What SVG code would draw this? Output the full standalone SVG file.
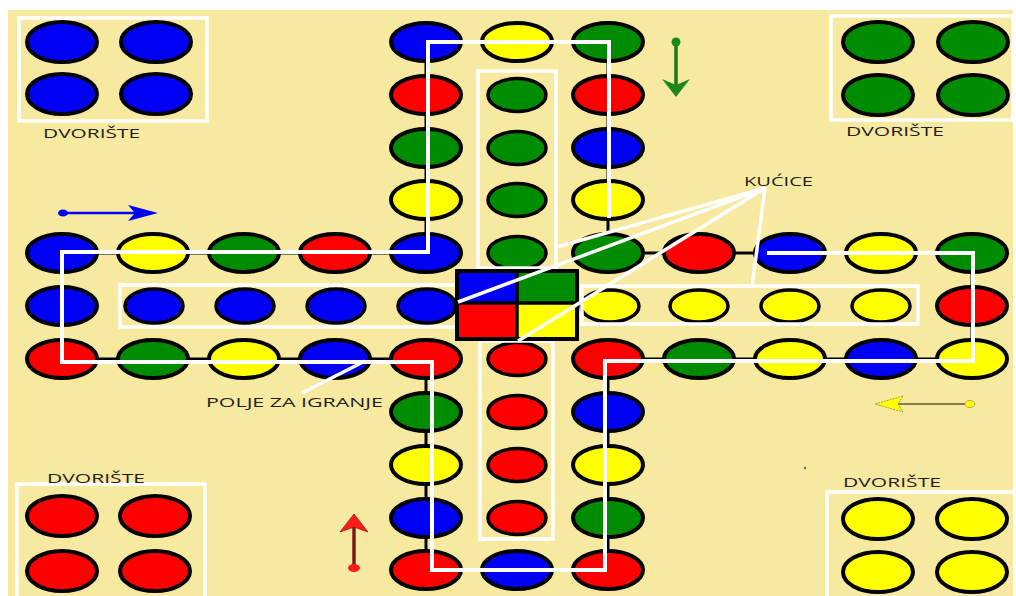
<svg xmlns="http://www.w3.org/2000/svg" width="1016" height="596" viewBox="0 0 1016 596">
<style>
.c{stroke:#000;stroke-width:4}
.h{stroke:#000;stroke-width:3.5}
.b{fill:#0000f5}.r{fill:#ff0000}.g{fill:#008c00}.y{fill:#ffff00}
.box{fill:none;stroke:#fff;stroke-width:3.5}
.wp{fill:none;stroke:#fff;stroke-width:4;stroke-linejoin:miter}
.ann{stroke:#fff;stroke-width:3.5;fill:none}
.lbl{font-family:"Open Sans","Liberation Sans",sans-serif;font-size:13px;fill:#1e1e1e}
</style>
<rect width="1016" height="596" fill="#fff"/>
<rect x="8" y="10" width="1005" height="586" fill="#f7e9a0"/>

<g id="track-links">
<polyline points="426,253 426,42 608,42 608,253 972,253 972,359 608,359 608,570 426,570 426,359 62,359 62,253 426,253" fill="none" stroke="#000" stroke-width="3"/>
</g>

<g id="yard-blue">
<rect class="box" x="19" y="18" width="188" height="103"/>
<ellipse class="c b" cx="62" cy="42" rx="35" ry="20"/>
<ellipse class="c b" cx="156" cy="42" rx="35" ry="20"/>
<ellipse class="c b" cx="62" cy="94" rx="35" ry="20"/>
<ellipse class="c b" cx="156" cy="94" rx="35" ry="20"/>
<text class="lbl" x="43" y="138" textLength="97" lengthAdjust="spacingAndGlyphs">DVORIŠTE</text>
</g>
<g id="yard-green">
<rect class="box" x="831" y="16" width="182" height="104"/>
<ellipse class="c g" cx="878" cy="42" rx="35" ry="20"/>
<ellipse class="c g" cx="973" cy="42" rx="35" ry="20"/>
<ellipse class="c g" cx="878" cy="95" rx="35" ry="20"/>
<ellipse class="c g" cx="973" cy="95" rx="35" ry="20"/>
<text class="lbl" x="846" y="136" textLength="98" lengthAdjust="spacingAndGlyphs">DVORIŠTE</text>
</g>
<g id="yard-red">
<rect class="box" x="17" y="484" width="188" height="120"/>
<ellipse class="c r" cx="62" cy="516" rx="35" ry="20"/>
<ellipse class="c r" cx="155" cy="516" rx="35" ry="20"/>
<ellipse class="c r" cx="62" cy="571" rx="35" ry="20"/>
<ellipse class="c r" cx="155" cy="571" rx="35" ry="20"/>
<text class="lbl" x="47" y="483" textLength="98" lengthAdjust="spacingAndGlyphs">DVORIŠTE</text>
</g>
<g id="yard-yellow">
<rect class="box" x="827" y="492" width="190" height="110"/>
<ellipse class="c y" cx="878" cy="519" rx="35" ry="20"/>
<ellipse class="c y" cx="972" cy="519" rx="35" ry="20"/>
<ellipse class="c y" cx="878" cy="572" rx="35" ry="20"/>
<ellipse class="c y" cx="972" cy="572" rx="35" ry="20"/>
<text class="lbl" x="843" y="487" textLength="98" lengthAdjust="spacingAndGlyphs">DVORIŠTE</text>
</g>

<g id="track">
<ellipse class="c b" cx="426" cy="42" rx="35" ry="19"/>
<ellipse class="c r" cx="426" cy="95" rx="35" ry="19"/>
<ellipse class="c g" cx="426" cy="148" rx="35" ry="19"/>
<ellipse class="c y" cx="426" cy="200" rx="35" ry="19"/>
<ellipse class="c b" cx="426" cy="253" rx="35" ry="19"/>
<ellipse class="c y" cx="517" cy="42" rx="35" ry="19"/>
<ellipse class="c g" cx="608" cy="42" rx="35" ry="19"/>
<ellipse class="c r" cx="608" cy="95" rx="35" ry="19"/>
<ellipse class="c b" cx="608" cy="148" rx="35" ry="19"/>
<ellipse class="c y" cx="608" cy="200" rx="35" ry="19"/>
<ellipse class="c g" cx="608" cy="253" rx="35" ry="19"/>

<ellipse class="c b" cx="62" cy="253" rx="35" ry="19"/>
<ellipse class="c y" cx="153" cy="253" rx="35" ry="19"/>
<ellipse class="c g" cx="244" cy="253" rx="35" ry="19"/>
<ellipse class="c r" cx="335" cy="253" rx="35" ry="19"/>
<ellipse class="c b" cx="62" cy="306" rx="35" ry="19"/>
<ellipse class="c r" cx="62" cy="359" rx="35" ry="19"/>
<ellipse class="c g" cx="153" cy="359" rx="35" ry="19"/>
<ellipse class="c y" cx="244" cy="359" rx="35" ry="19"/>
<ellipse class="c b" cx="335" cy="359" rx="35" ry="19"/>
<ellipse class="c r" cx="426" cy="359" rx="35" ry="19"/>

<ellipse class="c r" cx="699" cy="253" rx="35" ry="19"/>
<ellipse class="c b" cx="790" cy="253" rx="35" ry="19"/>
<ellipse class="c y" cx="881" cy="253" rx="35" ry="19"/>
<ellipse class="c g" cx="972" cy="253" rx="35" ry="19"/>
<ellipse class="c r" cx="972" cy="306" rx="35" ry="19"/>
<ellipse class="c r" cx="608" cy="359" rx="35" ry="19"/>
<ellipse class="c g" cx="699" cy="359" rx="35" ry="19"/>
<ellipse class="c y" cx="790" cy="359" rx="35" ry="19"/>
<ellipse class="c b" cx="881" cy="359" rx="35" ry="19"/>
<ellipse class="c y" cx="972" cy="359" rx="35" ry="19"/>

<ellipse class="c g" cx="426" cy="412" rx="35" ry="19"/>
<ellipse class="c y" cx="426" cy="465" rx="35" ry="19"/>
<ellipse class="c b" cx="426" cy="518" rx="35" ry="19"/>
<ellipse class="c r" cx="426" cy="570" rx="35" ry="19"/>
<ellipse class="c b" cx="517" cy="570" rx="35" ry="19"/>
<ellipse class="c b" cx="608" cy="412" rx="35" ry="19"/>
<ellipse class="c y" cx="608" cy="465" rx="35" ry="19"/>
<ellipse class="c g" cx="608" cy="518" rx="35" ry="19"/>
<ellipse class="c r" cx="608" cy="570" rx="35" ry="19"/>
</g>

<g id="home-green">
<ellipse class="h g" cx="517" cy="95" rx="29" ry="16.5"/>
<ellipse class="h g" cx="517" cy="148" rx="29" ry="16.5"/>
<ellipse class="h g" cx="517" cy="200" rx="29" ry="16.5"/>
<ellipse class="h g" cx="517" cy="253" rx="29" ry="16.5"/>
<rect class="box" x="478" y="71" width="78" height="197"/>
</g>
<g id="home-blue">
<ellipse class="h b" cx="154" cy="306" rx="29" ry="17"/>
<ellipse class="h b" cx="245" cy="306" rx="29" ry="17"/>
<ellipse class="h b" cx="336" cy="306" rx="29" ry="17"/>
<ellipse class="h b" cx="427" cy="306" rx="29" ry="17"/>
<rect class="box" x="120" y="285" width="338" height="42"/>
</g>
<g id="home-yellow">
<ellipse class="h y" cx="610" cy="306" rx="29" ry="16"/>
<ellipse class="h y" cx="699" cy="306" rx="29" ry="16"/>
<ellipse class="h y" cx="790" cy="306" rx="29" ry="16"/>
<ellipse class="h y" cx="881" cy="306" rx="29" ry="16"/>
<rect class="box" x="582" y="286" width="336" height="38"/>
</g>
<g id="home-red">
<ellipse class="h r" cx="517" cy="359" rx="29" ry="16.5"/>
<ellipse class="h r" cx="517" cy="412" rx="29" ry="16.5"/>
<ellipse class="h r" cx="517" cy="465" rx="29" ry="16.5"/>
<ellipse class="h r" cx="517" cy="518" rx="29" ry="16.5"/>
<rect class="box" x="480" y="341" width="73" height="198"/>
</g>

<g id="center">
<rect x="457" y="271" width="60" height="32" fill="#0000f5"/>
<rect x="517" y="271" width="60" height="32" fill="#008c00"/>
<rect x="457" y="303" width="60" height="36" fill="#ff0000"/>
<rect x="517" y="303" width="60" height="36" fill="#ffff00"/>
<rect x="457" y="271" width="120" height="68" fill="none" stroke="#000" stroke-width="4"/>
<line x1="517" y1="271" x2="517" y2="339" stroke="#000" stroke-width="3.5"/>
<line x1="457" y1="303" x2="577" y2="303" stroke="#000" stroke-width="3.5"/>
</g>

<g id="connectors">
<polyline class="wp" points="767,253 973,253 973,361 605,361 605,570 432,570 432,362 62,362 62,252 428,252 428,42 609,42 609,218"/>
<line class="ann" x1="765" y1="188" x2="557" y2="247"/>
<line class="ann" x1="765" y1="188" x2="458" y2="302"/>
<line class="ann" x1="765" y1="188" x2="518" y2="341"/>
<line class="ann" x1="765" y1="188" x2="752" y2="287"/>
<line class="ann" x1="302" y1="393" x2="365" y2="361"/>
</g>

<g id="labels">
<text class="lbl" x="744" y="186" textLength="69" lengthAdjust="spacingAndGlyphs">KUĆICE</text>
<text class="lbl" x="206" y="407" textLength="177" lengthAdjust="spacingAndGlyphs">POLJE ZA IGRANJE</text>
</g>

<g id="arrows">
<line x1="63" y1="213" x2="136" y2="213" stroke="#0000f5" stroke-width="2.5"/>
<ellipse cx="63" cy="213" rx="5" ry="3.5" fill="#0000f5"/>
<polygon points="128,205 158,213 128,221 135,213" fill="#0000f5"/>

<line x1="676" y1="42" x2="676" y2="86" stroke="#1a7a1a" stroke-width="3.5"/>
<ellipse cx="676" cy="42" rx="4.5" ry="4.5" fill="#1a8a1a"/>
<polygon points="662,79 676,97 690,79 676,85" fill="#1a8a1a"/>

<line x1="354" y1="567" x2="354" y2="526" stroke="#7a1a1a" stroke-width="3.5"/>
<ellipse cx="354" cy="568" rx="6" ry="4" fill="#ff1a1a"/>
<polygon points="340,532 354,514 368,532 354,527" fill="#ff1a1a" stroke="#a01010" stroke-width="0.8"/>

<line x1="969" y1="404" x2="896" y2="404" stroke="#5a5a2a" stroke-width="1.5"/>
<ellipse cx="970" cy="404" rx="5" ry="3.5" fill="#ffff00" stroke="#a09a50" stroke-width="0.8"/>
<polygon points="903,396 875,404 903,412 898,404" fill="#ffff00" stroke="#8a8a40" stroke-width="0.8" stroke-dasharray="2,1"/>
</g>
<circle cx="805" cy="468" r="1.2" fill="#666"/>
</svg>
